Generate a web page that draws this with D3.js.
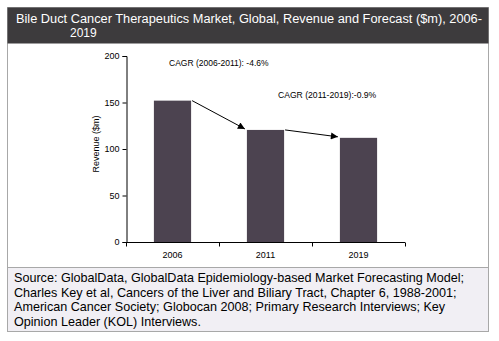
<!DOCTYPE html>
<html>
<head>
<meta charset="utf-8">
<script src="https://cdn.jsdelivr.net/npm/d3@7"></script>
<style>
  html, body { margin: 0; padding: 0; background: #ffffff; }
  svg { display: block; font-family: Arial, "Liberation Sans", sans-serif; }
</style>
</head>
<body>
<svg id="chart" width="499" height="341"></svg>
<script>
// Revenue by year ($m)
const years = ["2006", "2011", "2019"];
const revenue = [152, 120.5, 112];
const yTicks = [0, 50, 100, 150, 200];
const cagrLabels = ["CAGR (2006-2011): -4.6%", "CAGR (2011-2019):-0.9%"];
const titleLines = ["Bile Duct Cancer Therapeutics Market, Global, Revenue and Forecast ($m), 2006-", "2019"];
const sourceLines = [
  "Source: GlobalData, GlobalData Epidemiology-based Market Forecasting Model;",
  "Charles Key et al, Cancers of the Liver and Biliary Tract, Chapter 6, 1988-2001;",
  "American Cancer Society; Globocan 2008; Primary Research Interviews; Key",
  "Opinion Leader (KOL) Interviews."
];

const svg = d3.select("#chart");

// outer frame
svg.append("rect").attr("x", 7.5).attr("y", 7.5).attr("width", 481).attr("height", 324)
  .attr("fill", "#ffffff").attr("stroke", "#a8a8a8");

// title bar
svg.append("rect").attr("x", 7.5).attr("y", 7.5).attr("width", 481).attr("height", 36)
  .attr("fill", "#3d3b3d");
const titleText = svg.append("g").selectAll("text").data(titleLines).join("text")
  .attr("x", (d, i) => i === 0 ? 16 : 70)
  .attr("y", (d, i) => 23 + i * 14)
  .attr("fill", "#ffffff").attr("font-size", 12)
  .text(d => d);
titleText.filter((d, i) => i === 0)
  .attr("textLength", 466).attr("lengthAdjust", "spacingAndGlyphs");

// source box
svg.append("rect").attr("x", 7.5).attr("y", 267.5).attr("width", 481).attr("height", 64)
  .attr("fill", "#f1eff4").attr("stroke", "#a8a8a8");
svg.append("g").selectAll("text").data(sourceLines).join("text")
  .attr("x", 14)
  .attr("y", (d, i) => 282 + i * 14.7)
  .attr("fill", "#000000").attr("font-size", 12.6)
  .text(d => d);

// plot
const x0 = 126, x1 = 405, yTop = 56, yBot = 242;
const x = d3.scaleBand().domain(years).range([x0, x1]).paddingInner(0.6).paddingOuter(0.3);
const y = d3.scaleLinear().domain([0, 200]).range([yBot, yTop]);

svg.append("g").selectAll("rect").data(years).join("rect")
  .attr("x", d => x(d))
  .attr("y", (d, i) => y(revenue[i]))
  .attr("width", x.bandwidth())
  .attr("height", (d, i) => y(0) - y(revenue[i]))
  .attr("fill", "#4c4350");

// y axis
const yAxis = svg.append("g").attr("transform", `translate(${x0 + 0.5},0)`)
  .call(d3.axisLeft(y).tickValues(yTicks).tickSize(4).tickPadding(3));
yAxis.select(".domain").attr("stroke", "#000");
yAxis.selectAll("text").attr("font-size", 9).attr("font-family", "Arial, 'Liberation Sans', sans-serif");

// x axis with category boundary ticks
const xb = d3.scaleLinear().domain([0, 3]).range([x0, x1]);
const xAxis = svg.append("g").attr("transform", `translate(0,${yBot + 0.5})`);
xAxis.append("line").attr("x1", x0).attr("x2", x1).attr("stroke", "#000");
xAxis.selectAll("line.tk").data(d3.range(4)).join("line").attr("class", "tk")
  .attr("x1", d => Math.round(xb(d)) + 0.5).attr("x2", d => Math.round(xb(d)) + 0.5)
  .attr("y1", 0).attr("y2", 4).attr("stroke", "#000");
xAxis.selectAll("text").data(years).join("text")
  .attr("x", d => x(d) + x.bandwidth() / 2).attr("y", 15)
  .attr("text-anchor", "middle").attr("font-size", 9)
  .text(d => d);

// y axis title
svg.append("text")
  .attr("transform", `translate(99,144) rotate(-90)`)
  .attr("text-anchor", "middle").attr("font-size", 9)
  .text("Revenue ($m)");

// CAGR arrows between bar tops
svg.append("defs").append("marker").attr("id", "arr")
  .attr("viewBox", "0 0 10 10").attr("refX", 10).attr("refY", 5)
  .attr("markerWidth", 9).attr("markerHeight", 7).attr("orient", "auto")
  .attr("markerUnits", "userSpaceOnUse")
  .append("path").attr("d", "M0,0L10,5L0,10z").attr("fill", "#000");

const arrows = [[0, 1], [1, 2]];
svg.append("g").selectAll("line").data(arrows).join("line")
  .attr("x1", d => x(years[d[0]]) + x.bandwidth() + 1)
  .attr("y1", d => y(revenue[d[0]]))
  .attr("x2", d => x(years[d[1]]) - 2)
  .attr("y2", d => y(revenue[d[1]]) - 1)
  .attr("stroke", "#000").attr("stroke-width", 1)
  .attr("marker-end", "url(#arr)");

svg.append("text").attr("x", 169).attr("y", 66).attr("font-size", 8.5).text(cagrLabels[0]);
svg.append("text").attr("x", 278).attr("y", 98).attr("font-size", 8.6).text(cagrLabels[1]);
</script>
</body>
</html>
